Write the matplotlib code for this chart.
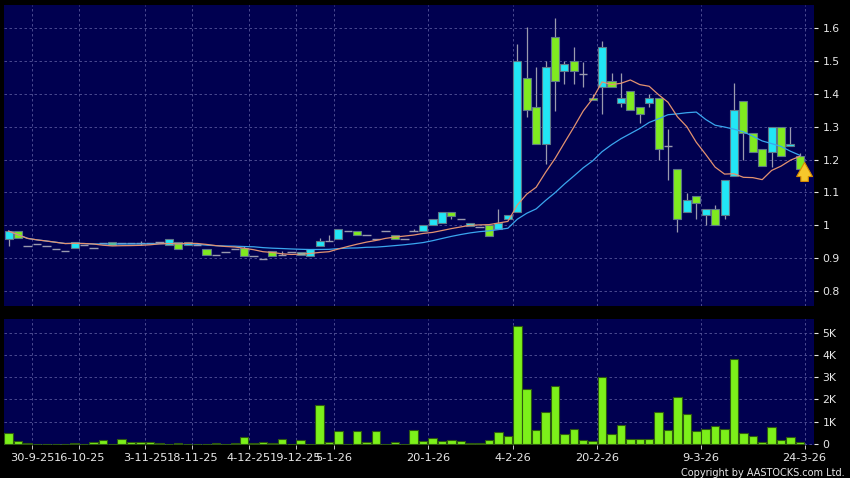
import matplotlib
matplotlib.use("Agg")
import matplotlib.pyplot as plt
import numpy as np
import pandas as pd

# daily OHLC (one entry per traded bar)
OPENS = [
    0.957, 0.982, 0.938, 0.942, 0.938, 0.929, 0.921, 0.930, 0.940, 0.930,
    0.945, 0.949, 0.945, 0.945, 0.945, 0.945, 0.950, 0.940, 0.948, 0.939,
    0.940, 0.929, 0.908, 0.920, 0.929, 0.931, 0.906, 0.898, 0.921, 0.909,
    0.919, 0.908, 0.906, 0.937, 0.951, 0.958, 0.982, 0.981, 0.969, 0.959,
    0.982, 0.969, 0.959, 0.982, 0.982, 1.000, 1.008, 1.039, 1.020, 0.998,
    0.995, 1.000, 0.988, 1.020, 1.039, 1.449, 1.361, 1.249, 1.572, 1.470,
    1.501, 1.462, 1.389, 1.420, 1.440, 1.371, 1.409, 1.361, 1.371, 1.388,
    1.241, 1.170, 1.039, 1.089, 1.031, 1.051, 1.031, 1.149, 1.379, 1.280,
    1.231, 1.222, 1.300, 1.241, 1.210,
]
CLOSES = [
    0.982, 0.960, 0.938, 0.942, 0.938, 0.929, 0.921, 0.949, 0.940, 0.930,
    0.945, 0.939, 0.945, 0.945, 0.945, 0.945, 0.950, 0.959, 0.929, 0.949,
    0.940, 0.909, 0.908, 0.920, 0.929, 0.906, 0.906, 0.898, 0.906, 0.909,
    0.919, 0.919, 0.929, 0.951, 0.951, 0.989, 0.982, 0.969, 0.969, 0.959,
    0.982, 0.959, 0.959, 0.982, 1.001, 1.020, 1.039, 1.028, 1.020, 1.008,
    0.995, 0.967, 1.008, 1.031, 1.501, 1.351, 1.249, 1.481, 1.440, 1.490,
    1.470, 1.462, 1.381, 1.542, 1.420, 1.389, 1.351, 1.340, 1.389, 1.232,
    1.241, 1.020, 1.078, 1.069, 1.051, 1.000, 1.139, 1.351, 1.280, 1.222,
    1.180, 1.300, 1.210, 1.249, 1.170,
]
HIGHS = [
    0.982, 0.982, 0.938, 0.942, 0.938, 0.929, 0.921, 0.949, 0.940, 0.930,
    0.945, 0.949, 0.945, 0.945, 0.951, 0.945, 0.950, 0.959, 0.948, 0.949,
    0.940, 0.929, 0.908, 0.920, 0.929, 0.938, 0.906, 0.898, 0.921, 0.921,
    0.919, 0.919, 0.929, 0.960, 0.969, 0.989, 0.982, 0.981, 0.969, 0.959,
    0.982, 0.969, 0.959, 0.990, 1.001, 1.020, 1.039, 1.039, 1.020, 1.008,
    0.995, 1.000, 1.051, 1.031, 1.552, 1.603, 1.483, 1.500, 1.630, 1.500,
    1.544, 1.498, 1.400, 1.561, 1.464, 1.464, 1.409, 1.361, 1.400, 1.388,
    1.293, 1.170, 1.099, 1.089, 1.051, 1.061, 1.139, 1.434, 1.379, 1.280,
    1.231, 1.300, 1.300, 1.300, 1.219,
]
LOWS = [
    0.937, 0.960, 0.938, 0.942, 0.938, 0.929, 0.921, 0.930, 0.940, 0.930,
    0.945, 0.939, 0.945, 0.945, 0.939, 0.945, 0.950, 0.940, 0.929, 0.939,
    0.940, 0.909, 0.908, 0.920, 0.929, 0.906, 0.906, 0.898, 0.906, 0.909,
    0.919, 0.908, 0.906, 0.937, 0.951, 0.958, 0.982, 0.969, 0.969, 0.959,
    0.982, 0.959, 0.959, 0.982, 0.982, 1.000, 1.008, 1.020, 1.020, 0.998,
    0.995, 0.967, 0.988, 1.020, 1.039, 1.330, 1.249, 1.188, 1.349, 1.430,
    1.430, 1.420, 1.381, 1.338, 1.420, 1.361, 1.351, 1.310, 1.360, 1.198,
    1.139, 0.980, 1.039, 1.020, 1.000, 1.000, 1.020, 1.149, 1.198, 1.222,
    1.180, 1.178, 1.210, 1.241, 1.170,
]
# volume in thousands
VOLUMES_K = [
    0.50, 0.13, 0.05, 0.02, 0.02, 0.01, 0.01, 0.06, 0.02, 0.10,
    0.20, 0.02, 0.23, 0.07, 0.10, 0.10, 0.06, 0.01, 0.05, 0.02,
    0.01, 0.02, 0.06, 0.01, 0.05, 0.30, 0.06, 0.08, 0.03, 0.22,
    0.02, 0.20, 0.02, 1.76, 0.08, 0.60, 0.00, 0.60, 0.08, 0.58,
    0.01, 0.08, 0.00, 0.65, 0.14, 0.28, 0.12, 0.16, 0.12, 0.05,
    0.04, 0.17, 0.53, 0.38, 5.30, 2.48, 0.65, 1.45, 2.61, 0.46,
    0.67, 0.16, 0.12, 3.00, 0.43, 0.84, 0.21, 0.21, 0.21, 1.45,
    0.64, 2.12, 1.36, 0.60, 0.69, 0.81, 0.67, 3.81, 0.49, 0.36,
    0.10, 0.78, 0.18, 0.31, 0.07,
]
DATE_LABELS = [
    "30-9-25", "16-10-25", "3-11-25", "18-11-25", "4-12-25", "19-12-25",
    "5-1-26", "20-1-26", "4-2-26", "20-2-26", "9-3-26", "24-3-26",
]
DATE_BARS = [2, 7, 14, 19, 25, 30, 34, 44, 53, 62, 73, 84]
PRICE_TICKS = [0.8, 0.9, 1.0, 1.1, 1.2, 1.3, 1.4, 1.5, 1.6]
PRICE_TICK_LABELS = ["0.8", "0.9", "1", "1.1", "1.2", "1.3", "1.4", "1.5", "1.6"]
VOLUME_TICKS = [0, 1, 2, 3, 4, 5]
VOLUME_TICK_LABELS = ["0", "1K", "2K", "3K", "4K", "5K"]

NAVY = "#000050"
UP_COLOR = "#22e6f5"
DOWN_COLOR = "#80ea20"
EDGE_COLOR = "#5e7888"
WICK_COLOR = "#9a9aae"
GRID_COLOR = "#55559a"
TEXT_COLOR = "#e8e8e8"

df = pd.DataFrame(
    {"open": OPENS, "high": HIGHS, "low": LOWS, "close": CLOSES, "volume": VOLUMES_K}
)
df["idx"] = np.arange(len(df))
df["ma10"] = df["close"].rolling(10, min_periods=1).mean()
df["ma20"] = df["close"].rolling(20, min_periods=1).mean()

fig = plt.figure(figsize=(8.5, 4.78), dpi=100, facecolor="black")
ax = fig.add_axes([4 / 850, 1 - 306 / 478, 810 / 850, 301 / 478])
axv = fig.add_axes([4 / 850, 1 - 445 / 478, 810 / 850, 126 / 478], sharex=ax)

grid_kw = dict(color=GRID_COLOR, linewidth=0.6, linestyle=(0, (3, 3)))
tick_pos = [b + 0.5 for b in DATE_BARS]

for a in (ax, axv):
    a.set_facecolor(NAVY)
    for s in a.spines.values():
        s.set_visible(False)
    a.yaxis.tick_right()
    a.tick_params(axis="y", colors=TEXT_COLOR, labelsize=7.8, length=3, width=0.8, pad=3)
    a.tick_params(axis="x", colors=TEXT_COLOR, labelsize=8.2, length=3, width=0.6, pad=3)
    a.set_axisbelow(True)
    a.grid(True, **grid_kw)

# candles
wick_df = df[df["high"] > df["low"]]
ax.vlines(wick_df["idx"], wick_df["low"], wick_df["high"], color=WICK_COLOR, linewidth=0.9, zorder=2)

up = df[df["close"] > df["open"]]
down = df[df["close"] < df["open"]]
flat = df[df["close"] == df["open"]]
ax.bar(up["idx"], up["close"] - up["open"], bottom=up["open"], width=0.85,
       color=UP_COLOR, edgecolor=EDGE_COLOR, linewidth=0.8, zorder=3)
ax.bar(down["idx"], down["open"] - down["close"], bottom=down["close"], width=0.85,
       color=DOWN_COLOR, edgecolor=EDGE_COLOR, linewidth=0.8, zorder=3)
ax.hlines(flat["close"], flat["idx"] - 0.45, flat["idx"] + 0.45, color=WICK_COLOR, linewidth=1.0, zorder=3)

# moving averages
ax.plot(df["idx"], df["ma20"], color="#3aa6ee", linewidth=0.9, zorder=4)
ax.plot(df["idx"], df["ma10"], color="#e39270", linewidth=0.9, zorder=4)

# last-close arrow
last = df.iloc[-1]
ax.annotate(
    "",
    xy=(last["idx"] + 0.5, last["close"] + 0.03),
    xytext=(last["idx"] + 0.5, last["close"] - 0.045),
    arrowprops=dict(
        arrowstyle="simple,head_length=0.85,head_width=0.95,tail_width=0.45",
        mutation_scale=12, fc="#f7c82c", ec="#d68a00", lw=0.8,
    ),
    zorder=6,
)

ax.set_xlim(-0.5, len(df) - 0.5 + 1)
ax.set_ylim(0.754, 1.671)
ax.set_yticks(PRICE_TICKS, PRICE_TICK_LABELS)
ax.set_xticks(tick_pos)
ax.tick_params(axis="x", length=0, labelbottom=False)

# volume
axv.bar(df["idx"], df["volume"], width=0.9, color="#7cf01a", edgecolor="#2e5a10", linewidth=0.8, zorder=3)
axv.set_ylim(-0.045, 5.61)
axv.set_yticks(VOLUME_TICKS, VOLUME_TICK_LABELS)
axv.set_xticks(tick_pos, DATE_LABELS)

fig.text(0.994, 0.0, "Copyright by AASTOCKS.com Ltd.", color=TEXT_COLOR,
         fontsize=7.0, ha="right", va="bottom")

fig.savefig("out.png", dpi=100, facecolor="black")
